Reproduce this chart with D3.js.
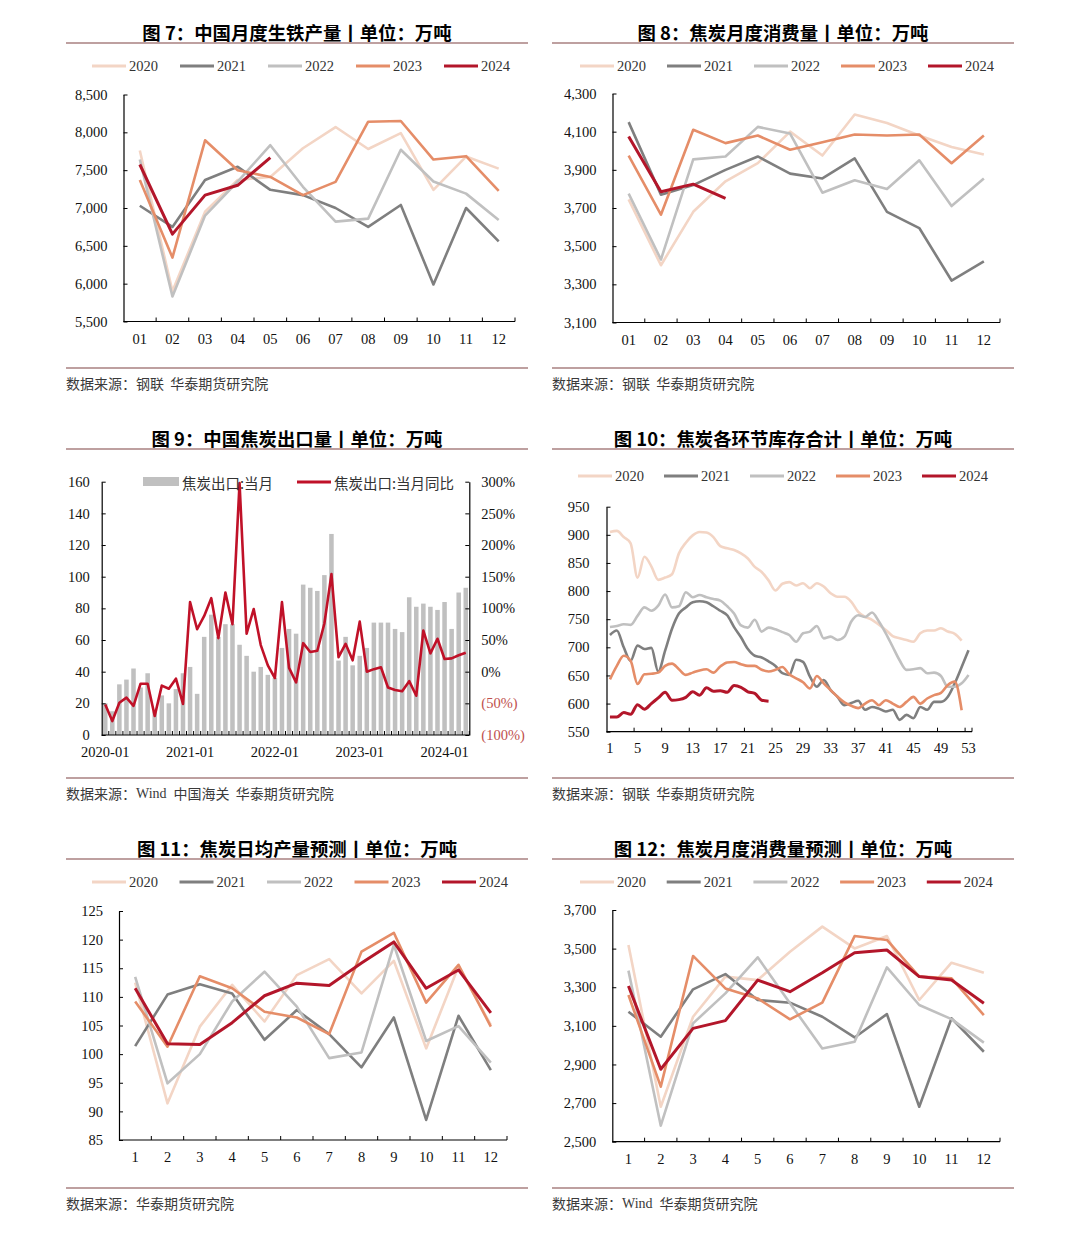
<!DOCTYPE html>
<html>
<head>
<meta charset="utf-8">
<script src="https://cdn.jsdelivr.net/npm/d3@7"></script>
<style>
  body { margin: 0; background: #fff; }
  svg text { font-family: "Liberation Serif", "DejaVu Serif", serif; fill: #111; }
  svg text.cn, svg tspan.cn { font-family: "Noto Sans CJK SC", sans-serif; }
  svg text.src { white-space: pre; }
</style>
</head>
<body>
<div id="container"></div>
<script>
// ---- data ----
const years = ["2020", "2021", "2022", "2023", "2024"];
const monthLabelsPadded = ["01", "02", "03", "04", "05", "06", "07", "08", "09", "10", "11", "12"];
const monthLabels = ["1", "2", "3", "4", "5", "6", "7", "8", "9", "10", "11", "12"];

// 图7 中国月度生铁产量
const pigIron2020 = [7760, 5900, 6950, 7370, 7410, 7790, 8070, 7780, 7990, 7240, 7680, 7520];
const pigIron2021 = [7030, 6750, 7370, 7545, 7240, 7170, 7000, 6750, 7040, 5990, 7000, 6560];
const pigIron2022 = [7640, 5830, 6900, 7350, 7830, 7280, 6820, 6860, 7770, 7350, 7190, 6840];
const pigIron2023 = [7370, 6345, 7895, 7500, 7410, 7170, 7345, 8140, 8150, 7640, 7685, 7225];
const pigIron2024 = [7575, 6655, 7170, 7300, 7665];

// 图8 焦炭月度消费量
const cokeUse2020 = [3745, 3400, 3680, 3840, 3935, 4100, 3975, 4190, 4145, 4080, 4020, 3980];
const cokeUse2021 = [4150, 3770, 3820, 3900, 3970, 3880, 3855, 3960, 3680, 3595, 3320, 3420];
const cokeUse2022 = [3775, 3430, 3955, 3970, 4125, 4090, 3780, 3845, 3800, 3950, 3710, 3855];
const cokeUse2023 = [3975, 3665, 4110, 4040, 4080, 4005, 4045, 4085, 4080, 4085, 3935, 4080];
const cokeUse2024 = [4075, 3785, 3825, 3750];

// 图9 中国焦炭出口量 (2020-01 .. 2024-04)
const exportTicks = ["2020-01", "2021-01", "2022-01", "2023-01", "2024-01"];
const exportVolume = [20, 15, 32, 35, 42, 30, 39, 15, 25, 20, 29, 39,
                      43, 26, 62, 76, 62, 70, 70, 57, 50, 40, 43, 38,
                      36, 55, 67, 64, 95, 93, 91, 101, 127, 47, 62, 44,
                      50, 55, 71, 71, 71, 67, 65, 87, 81, 83, 81, 79,
                      84, 67, 90, 93];
const exportYoy = [-52, -78, -49, -41, -54, -19, -19, -70, -22, -27, -11, -51,
                   110, 67, 88, 116, 53, 125, 75, 298, 60, 99, 42, 10,
                   -10, 110, 6, -17, 45, 31, 33, 76, 154, 23, 44, 18,
                   79, 0, 4, 7, -25, -29, -31, -15, -38, 65, 29, 52,
                   20, 21, 26, 30];

// 图10 焦炭各环节库存合计 (weekly)
const weekTicks = ["1", "5", "9", "13", "17", "21", "25", "29", "33", "37", "41", "45", "49", "53"];
const stock2020 = [905, 907, 896, 885, 824, 861, 844, 820, 824, 830, 867, 886, 899, 905, 904, 896, 880, 876, 873, 867,
                   858, 843, 834, 819, 801, 813, 816, 810, 814, 805, 814, 808, 796, 790, 790, 781, 763, 754, 749, 740,
                   731, 720, 716, 713, 710, 725, 730, 730, 734, 728, 724, 712];
const stock2021 = [722, 730, 700, 676, 703, 697, 699, 657, 694, 733, 760, 771, 780, 782, 780, 773, 765, 757, 736, 718,
                   697, 685, 682, 675, 667, 654, 651, 678, 674, 648, 630, 642, 624, 612, 597, 601, 605, 589, 594, 591,
                   586, 589, 571, 580, 574, 594, 589, 603, 603, 612, 636, 665, 695];
const stock2022 = [736, 738, 741, 740, 756, 771, 765, 774, 794, 771, 773, 798, 789, 793, 789, 786, 783, 773, 760, 739,
                   735, 749, 728, 735, 732, 727, 722, 710, 725, 728, 738, 716, 719, 713, 719, 746, 757, 754, 762, 746,
                   725, 701, 677, 660, 661, 663, 654, 655, 649, 630, 630, 636, 651];
const stock2023 = [643, 667, 685, 676, 635, 652, 653, 655, 667, 671, 661, 651, 655, 659, 661, 655, 666, 673, 674, 670,
                   667, 667, 660, 657, 660, 665, 652, 645, 638, 627, 649, 636, 624, 612, 602, 596, 592, 600, 606, 597,
                   606, 600, 594, 603, 612, 600, 609, 615, 619, 633, 639, 588];
const stock2024 = [576, 576, 584, 581, 598, 590, 600, 610, 620, 606, 607, 611, 621, 615, 628, 622, 623, 620, 632, 629,
                   621, 618, 606, 604];

// 图11 焦炭日均产量预测
const daily2020 = [112.5, 91.4, 104.8, 112.1, 105.7, 113.8, 116.6, 110.6, 116.3, 101.0, 115.3, 105.1];
const daily2021 = [101.4, 110.4, 112.2, 110.6, 102.5, 107.7, 103.5, 97.7, 106.4, 88.5, 106.7, 97.2];
const daily2022 = [113.5, 94.9, 100.0, 109.2, 114.4, 108.3, 99.3, 100.3, 119.1, 102.3, 104.9, 98.5];
const daily2023 = [109.2, 101.3, 113.6, 111.5, 107.4, 106.4, 103.5, 117.9, 121.2, 109.0, 115.6, 104.8];
const daily2024 = [111.5, 101.8, 101.7, 105.5, 110.2, 112.4, 112.0, 115.9, 119.6, 111.5, 114.7, 107.2];

// 图12 焦炭月度消费量预测
const forecast2020 = [3519, 2681, 3147, 3355, 3337, 3484, 3614, 3501, 3565, 3234, 3427, 3375];
const forecast2021 = [3173, 3044, 3289, 3368, 3234, 3220, 3147, 3040, 3161, 2681, 3139, 2966];
const forecast2022 = [3386, 2583, 3113, 3268, 3455, 3217, 2983, 3018, 3403, 3208, 3135, 3013];
const forecast2023 = [3260, 2785, 3462, 3294, 3242, 3134, 3220, 3565, 3545, 3355, 3346, 3156];
const forecast2024 = [3306, 2875, 3087, 3127, 3337, 3277, 3375, 3479, 3493, 3355, 3337, 3217];

// ---- styles ----
const yearColor = d3.scaleOrdinal().domain(years)
                    .range(["#f3d5c5", "#7f7f7f", "#c0c0c0", "#e58d68", "#b3162a"]);
const yearWidth = d3.scaleOrdinal().domain(years).range([2.6, 2.6, 2.6, 2.6, 3]);
const ruleColor = "#a88181";
const commaFmt = d3.format(",");

const svg = d3.select("#container")
              .append("svg")
              .attr("width", 1080)
              .attr("height", 1237);

// title, rules and source of one panel
function frame(x0, x1, titleY, bottomY, title, source) {
  svg.append("text")
     .attr("class", "cn")
     .attr("x", (x0 + x1) / 2)
     .attr("y", titleY)
     .attr("text-anchor", "middle")
     .attr("dominant-baseline", "central")
     .style("font-size", "18.4px")
     .style("font-weight", "700")
     .style("fill", "#000")
     .text(title);
  [titleY + 11, bottomY].forEach(y => {
    svg.append("line")
       .attr("x1", x0).attr("x2", x1)
       .attr("y1", y).attr("y2", y)
       .attr("stroke", ruleColor)
       .attr("stroke-width", 1.6);
  });
  const t = svg.append("text")
               .attr("class", "src")
               .attr("x", x0)
               .attr("y", bottomY + 15)
               .attr("dominant-baseline", "central")
               .style("font-size", "14px")
               .style("fill", "#3a3a3a");
  source.forEach(part => {
    t.append("tspan")
     .attr("class", part.cn ? "cn" : null)
     .style("fill", "#3a3a3a")
     .text(part.text);
  });
}

function yearLegend(x0, y, step) {
  const item = svg.append("g")
                  .selectAll("g")
                  .data(years)
                  .enter()
                  .append("g")
                  .attr("transform", (d, i) => "translate(" + (x0 + i * step) + "," + y + ")");
  item.append("line")
      .attr("x1", 0).attr("x2", 34)
      .attr("stroke", d => yearColor(d))
      .attr("stroke-width", 3);
  item.append("text")
      .attr("x", 37)
      .attr("dominant-baseline", "central")
      .style("font-size", "14.5px")
      .style("fill", "#333")
      .text(d => d);
}

// category x axis: ticks on boundaries, labels centred on categories
function categoryAxis(g, x, y0, labelOf, tickEvery, labelGap) {
  g.append("line")
   .attr("x1", x.range()[0]).attr("x2", x.range()[1])
   .attr("y1", y0).attr("y2", y0)
   .attr("stroke", "#000").attr("stroke-width", 1.2);
  const dom = x.domain();
  const bounds = dom.filter((d, i) => i % tickEvery === 0 && i > 0).map(d => x(d) - x.step() * x.paddingInner() / 2);
  bounds.push(x.range()[1]);
  g.selectAll(".xtick")
   .data(bounds)
   .enter()
   .append("line")
   .attr("class", "xtick")
   .attr("x1", d => d).attr("x2", d => d)
   .attr("y1", y0).attr("y2", y0 - 4)
   .attr("stroke", "#000");
  g.selectAll(".xlab")
   .data(dom.filter((d, i) => labelOf(d, i) !== null))
   .enter()
   .append("text")
   .attr("class", "xlab")
   .attr("x", d => x(d) + x.bandwidth() / 2)
   .attr("y", y0 + labelGap)
   .attr("text-anchor", "middle")
   .attr("dominant-baseline", "central")
   .style("font-size", "14.5px")
   .text(d => labelOf(d, dom.indexOf(d)));
}

function leftAxis(g, y, left, ticks, fmt, gap) {
  g.append("g")
   .attr("transform", "translate(" + left + ",0)")
   .call(d3.axisLeft(y).tickValues(ticks).tickFormat(fmt).tickSize(-4).tickSizeOuter(0).tickPadding(gap))
   .call(a => a.select(".domain").attr("stroke-width", 1.2))
   .call(a => a.selectAll("text").style("font-size", "14.5px").style("fill", "#111")
                .style("font-family", "'Liberation Serif', serif"));
}

// 5 yearly lines on a category axis
function yearPanel(cfg) {
  const g = svg.append("g");
  const x = d3.scaleBand()
              .domain(d3.range(cfg.categories.length))
              .range([cfg.left, cfg.right])
              .paddingInner(0)
              .paddingOuter(0);
  const y = d3.scaleLinear().domain(cfg.domain).range([cfg.bottom, cfg.top]);
  leftAxis(g, y, cfg.left, d3.range(cfg.domain[0], cfg.domain[1] + 1, cfg.step), cfg.fmt, cfg.gap);
  categoryAxis(g, x, cfg.bottom, (d, i) => i % cfg.labelEvery === 0 ? cfg.categories[i] : null, cfg.labelEvery, 17);
  const line = d3.line()
                 .x((d, i) => x(i) + x.bandwidth() / 2)
                 .y(d => y(d));
  g.selectAll(".series")
   .data(cfg.series)
   .enter()
   .append("path")
   .attr("fill", "none")
   .attr("stroke", (d, i) => yearColor(years[i]))
   .attr("stroke-width", (d, i) => yearWidth(years[i]))
   .attr("stroke-linejoin", "round")
   .attr("d", d => line(d));
}

// ---- 图7 ----
frame(66, 528, 32, 368, "图 7：中国月度生铁产量丨单位：万吨", [{text: "数据来源：钢联  华泰期货研究院", cn: true}]);
yearLegend(92, 66, 88);
yearPanel({left: 123.5, right: 515, top: 94.5, bottom: 321.5, domain: [5500, 8500], step: 500,
           fmt: commaFmt, gap: 16, categories: monthLabelsPadded, labelEvery: 1,
           series: [pigIron2020, pigIron2021, pigIron2022, pigIron2023, pigIron2024]});

// ---- 图8 ----
frame(552, 1014, 32, 368, "图 8：焦炭月度消费量丨单位：万吨", [{text: "数据来源：钢联  华泰期货研究院", cn: true}]);
yearLegend(580, 66, 87);
yearPanel({left: 612.5, right: 1000, top: 93.5, bottom: 322.5, domain: [3100, 4300], step: 200,
           fmt: commaFmt, gap: 16, categories: monthLabelsPadded, labelEvery: 1,
           series: [cokeUse2020, cokeUse2021, cokeUse2022, cokeUse2023, cokeUse2024]});

// ---- 图9 ----
frame(66, 528, 438, 778, "图 9：中国焦炭出口量丨单位：万吨",
      [{text: "数据来源：", cn: true}, {text: "Wind  ", cn: false}, {text: "中国海关  华泰期货研究院", cn: true}]);
{
  const g = svg.append("g");
  const left = 101.7, right = 469.3, top = 481.7, bottom = 735;
  const months = d3.range(exportVolume.length);
  const x = d3.scaleBand().domain(months).range([left, right]).paddingInner(0.36).paddingOuter(0.18);
  const yL = d3.scaleLinear().domain([0, 160]).range([bottom, top]);
  const yR = d3.scaleLinear().domain([-100, 300]).range([bottom, top]);

  g.selectAll(".bar")
   .data(exportVolume)
   .enter()
   .append("rect")
   .attr("class", "bar")
   .attr("x", (d, i) => x(i))
   .attr("width", x.bandwidth())
   .attr("y", d => yL(d))
   .attr("height", d => yL(0) - yL(d))
   .attr("fill", "#c0c0c0");

  leftAxis(g, yL, left, d3.range(0, 161, 20), d3.format("d"), 12);

  const pctFmt = v => v < 0 ? "(" + (-v) + "%)" : v + "%";
  g.append("g")
   .attr("transform", "translate(" + right + ",0)")
   .call(d3.axisRight(yR).tickValues(d3.range(-100, 301, 50)).tickFormat(pctFmt).tickSize(-4).tickSizeOuter(0).tickPadding(12))
   .call(a => a.select(".domain").attr("stroke-width", 1.2))
   .call(a => a.selectAll("text").style("font-size", "14.5px")
                .style("font-family", "'Liberation Serif', serif")
                .style("fill", d => d < 0 ? "#c0504d" : "#111"));

  categoryAxis(g, x, bottom, (d, i) => i % 12 === 0 ? exportTicks[i / 12] : null, 1, 17);

  g.append("path")
   .datum(exportYoy)
   .attr("fill", "none")
   .attr("stroke", "#c01128")
   .attr("stroke-width", 2.6)
   .attr("stroke-linejoin", "round")
   .attr("d", d3.line().x((d, i) => x(i) + x.bandwidth() / 2).y(d => yR(d)));

  // legend
  g.append("rect").attr("x", 143).attr("y", 477).attr("width", 36).attr("height", 9).attr("fill", "#c0c0c0");
  g.append("text").attr("class", "cn").attr("x", 182).attr("y", 482).attr("dominant-baseline", "central")
   .style("font-size", "14.5px").style("fill", "#333").text("焦炭出口:当月");
  g.append("line").attr("x1", 297).attr("x2", 331).attr("y1", 482).attr("y2", 482)
   .attr("stroke", "#c01128").attr("stroke-width", 3);
  g.append("text").attr("class", "cn").attr("x", 334).attr("y", 482).attr("dominant-baseline", "central")
   .style("font-size", "14.5px").style("fill", "#333").text("焦炭出口:当月同比");
}

// ---- 图10 ----
frame(552, 1014, 438, 778, "图 10：焦炭各环节库存合计丨单位：万吨", [{text: "数据来源：钢联  华泰期货研究院", cn: true}]);
yearLegend(578, 476, 86);
{
  const g = svg.append("g");
  const left = 606.5, right = 972, top = 506.7, bottom = 731.7;
  const weeks = d3.range(1, 54);
  const x = d3.scaleBand().domain(weeks).range([left, right]);
  const y = d3.scaleLinear().domain([550, 950]).range([bottom, top]);
  leftAxis(g, y, left, d3.range(550, 951, 50), d3.format("d"), 17);
  categoryAxis(g, x, bottom, (d, i) => i % 4 === 0 ? weekTicks[i / 4] : null, 4, 16);
  const line = d3.line().x((d, i) => x(weeks[i]) + x.bandwidth() / 2).y(d => y(d)).curve(d3.curveMonotoneX);
  g.selectAll(".series")
   .data([stock2020, stock2021, stock2022, stock2023, stock2024])
   .enter()
   .append("path")
   .attr("fill", "none")
   .attr("stroke", (d, i) => yearColor(years[i]))
   .attr("stroke-width", (d, i) => yearWidth(years[i]))
   .attr("stroke-linejoin", "round")
   .attr("d", d => line(d));
}

// ---- 图11 ----
frame(66, 528, 848, 1188, "图 11：焦炭日均产量预测丨单位：万吨", [{text: "数据来源：华泰期货研究院", cn: true}]);
yearLegend(92, 882, 87.5);
yearPanel({left: 119, right: 507, top: 911, bottom: 1140, domain: [85, 125], step: 5,
           fmt: d3.format("d"), gap: 16, categories: monthLabels, labelEvery: 1,
           series: [daily2020, daily2021, daily2022, daily2023, daily2024]});

// ---- 图12 ----
frame(552, 1014, 848, 1188, "图 12：焦炭月度消费量预测丨单位：万吨",
      [{text: "数据来源：", cn: true}, {text: "Wind  ", cn: false}, {text: "华泰期货研究院", cn: true}]);
yearLegend(580, 882, 86.7);
yearPanel({left: 612.3, right: 1000, top: 910, bottom: 1141.7, domain: [2500, 3700], step: 200,
           fmt: commaFmt, gap: 16, categories: monthLabels, labelEvery: 1,
           series: [forecast2020, forecast2021, forecast2022, forecast2023, forecast2024]});
</script>
</body>
</html>
